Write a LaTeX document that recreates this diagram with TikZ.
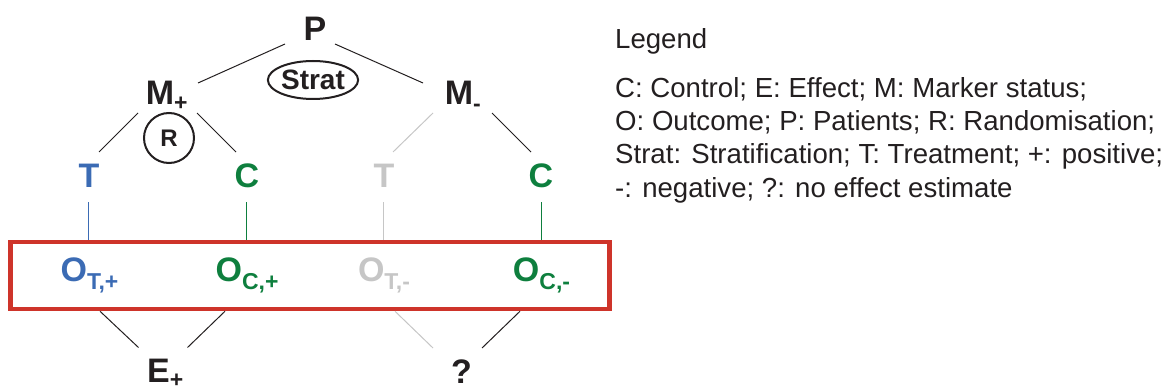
\documentclass[tikz,border=0pt]{standalone}
\usepackage{fontspec}
\setmainfont{Liberation Sans}
\usetikzlibrary{shapes.geometric}
\definecolor{tblue}{RGB}{59,107,180}
\definecolor{cgreen}{RGB}{14,127,62}
\definecolor{lgray}{RGB}{198,198,198}
\definecolor{bred}{RGB}{206,52,42}
\definecolor{ink}{RGB}{35,31,32}
\newcommand{\mybig}{\fontsize{34}{34}\selectfont\bfseries}
\newcommand{\mysubf}{\fontsize{23}{23}\selectfont\bfseries}
\newcommand{\mysub}[2]{\smash{\raisebox{-#1pt}{\mysubf #2}}}
\begin{document}
\begin{tikzpicture}[x=1pt,y=-1pt,
  lbl/.style={inner sep=0pt, outer sep=0pt, font=\mybig, text=ink},
  conn/.style={line width=1pt, draw=ink},
  gconn/.style={line width=1pt, draw=lgray},
  ring/.style={draw=ink, line width=2pt, inner sep=0pt, text=ink},
  leg/.style={anchor=base west, inner sep=0pt, font=\fontsize{27.6}{30}\selectfont, text=ink}]
\path[use as bounding box] (0,0) rectangle (1161,390);

% tree nodes
\node[lbl] (P) at (315,29) {P};
\node[lbl] (Mp) at (160,92.5) {M\rlap{\mysub{6}{+}}};
\node[lbl] (Mm) at (459,92.5) {M\rlap{\mysub{7}{-}}};
\node[ring, ellipse, minimum width=88pt, minimum height=38pt, font=\fontsize{28}{28}\selectfont\bfseries] (S) at (313,80) {Strat};
\node[ring, circle, minimum size=50pt, font=\fontsize{24}{24}\selectfont\bfseries] (R) at (169,138) {R};
\node[lbl, text=tblue] (Tp) at (89,176) {T};
\node[lbl, text=cgreen] (Cp) at (247,176) {C};
\node[lbl, text=lgray] (Tm) at (384,176) {T};
\node[lbl, text=cgreen] (Cm) at (541,176) {C};

% outcome box
\node[draw=bred, line width=4.5pt, minimum width=599pt, minimum height=67pt, inner sep=0pt] (box) at (310,275.5) {};
\node[lbl, text=tblue] (OTp) at (89.5,270) {O\mysub{8}{T,+}};
\node[lbl, text=cgreen] (OCp) at (247,270) {O\mysub{8}{C,+}};
\node[lbl, text=lgray] (OTm) at (384,270) {O\mysub{8}{T,-}};
\node[lbl, text=cgreen] (OCm) at (541.5,270) {O\mysub{8}{C,-}};

% effects
\node[lbl] (Ep) at (158.5,371) {E\rlap{\mysub{4.5}{+}}};
\node[lbl] (Q) at (461.5,371.5) {?};

% connectors
\draw[conn] ([shift={(-30,15)}]P.center) -- ([shift={(38,-9.5)}]Mp.center);
\draw[conn] ([shift={(20,15)}]P.center) -- ([shift={(-36,-9.5)}]Mm.center);
\draw[conn] ([shift={(-22,20.5)}]Mp.center) -- ([shift={(10,-24)}]Tp.center);
\draw[conn] ([shift={(37,20.5)}]Mp.center) -- ([shift={(-11,-24)}]Cp.center);
\draw[gconn] ([shift={(-26,20.5)}]Mm.center) -- ([shift={(9,-24)}]Tm.center);
\draw[conn] ([shift={(33,20.5)}]Mm.center) -- ([shift={(-10,-24)}]Cm.center);

\draw[tblue, line width=1pt] ([shift={(-0.7,26)}]Tp.center) -- ([shift={(-0.7,0)}]Tp.center |- box.north);
\draw[cgreen, line width=1pt] ([shift={(-0.7,26)}]Cp.center) -- ([shift={(-0.7,0)}]Cp.center |- box.north);
\draw[lgray, line width=1pt] ([shift={(-0.7,26)}]Tm.center) -- ([shift={(-0.7,0)}]Tm.center |- box.north);
\draw[cgreen, line width=1pt] ([shift={(0,26)}]Cm.center) -- (Cm.center |- box.north);

\draw[conn] ([shift={(10.5,0)}]OTp.center |- box.south) -- ([shift={(-20,-23.5)}]Ep.center);
\draw[conn] ([shift={(-22,0)}]OCp.center |- box.south) -- ([shift={(29,-23.5)}]Ep.center);
\draw[gconn] ([shift={(11,0)}]OTm.center |- box.south) -- ([shift={(-28.5,-23.5)}]Q.center);
\draw[conn] ([shift={(-21.5,0)}]OCm.center |- box.south) -- ([shift={(20.5,-23.5)}]Q.center);

% legend
\node[leg] (L0) at (615,48.3) {Legend};
\node[leg] (L1) at (615,98) {C: Control; E: Effect; M: Marker status;};
\node[leg] (L2) at (615,131) {O: Outcome; P: Patients; R: Randomisation;};
\node[leg] (L3) at (615,164) {Strat: Stratification; T: Treatment; +: positive;};
\node[leg] (L4) at (615,197) {-: negative; ?: no effect estimate};
\end{tikzpicture}
\end{document}
